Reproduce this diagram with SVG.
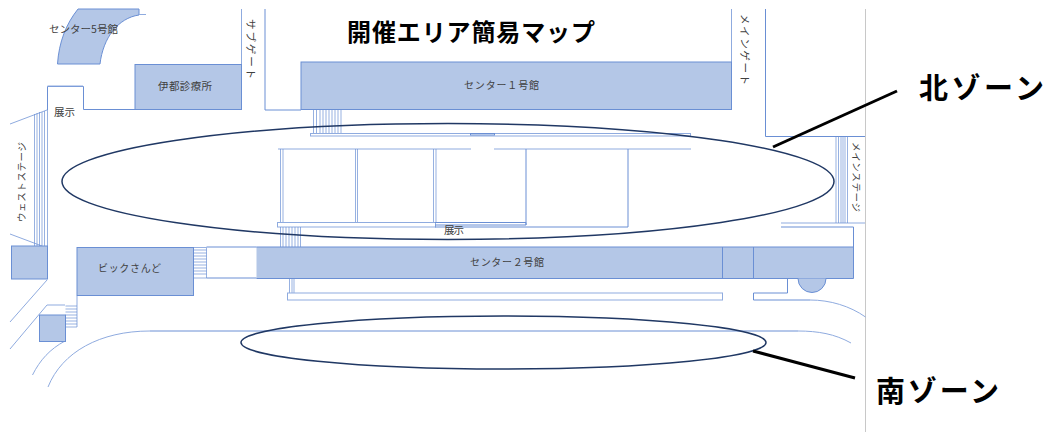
<svg xmlns="http://www.w3.org/2000/svg" width="1047" height="432" viewBox="0 0 1047 432">
<style>
text{font-family:"Noto Sans CJK JP","Noto Sans",sans-serif;fill:#404040}
.b{fill:#b4c7e7;stroke:#6a8fd4;stroke-width:1}
.l{fill:none;stroke:#6a8fd4;stroke-width:1}
.s{fill:none;stroke:#6a8fd4;stroke-width:.7}
.p{fill:none;stroke:#8fabdf;stroke-width:1}
.w{fill:#fff;stroke:#8fabdf;stroke-width:1}
.z{fill:none;stroke:#203864;stroke-width:1.5}
.t{font-weight:700;fill:#000}
.c{stroke:#000;stroke-width:3;fill:none}
</style>
<rect width="1047" height="432" fill="#fff"/>
<g id="boundary"><path d="M865.500 9V432" fill="none" stroke="#c8c8c8" stroke-width="1"/></g>
<g id="center5"><path class="b" d="M78 9H139V15C118 18 103 38 100 64H57.500C59 42 66 24 78 9Z"/><path d="M139 14.500H146" class="p"/><text x="49" y="33" font-size="10" textLength="69" lengthAdjust="spacingAndGlyphs">センター5号館</text></g>
<g id="walls">
<path class="l" d="M47.500 110V86.500H83.500V109.500H135"/>
<path class="p" d="M47.500 86H83"/>
<path class="p" d="M10 124L47 110"/>
<path class="p" d="M241.500 9V64"/>
<path class="l" d="M265 9V110H301"/>
<path class="p" d="M731.500 9V62"/>
<path class="l" d="M765.500 9V136.500H865"/>
<path class="p" d="M781 223H865"/>
<path class="l" d="M781 227H853.500V247"/>
<path class="p" d="M10 234L42 246"/>
<path class="p" d="M47 280L10 322"/>
<path class="p" d="M47 305L10 349"/>
<path class="p" d="M47 305H65"/>
<path class="p" d="M77 296V327"/>
<path class="p" d="M65 341C50 349 40 360 32.500 375"/>
<path class="p" d="M48 387C62 352 100 331 150 331"/>
<path class="l" d="M150 331H798"/>
<path class="p" d="M798 331C818 331 835 334 851 343"/>
<path class="p" d="M810 300C830 300 850 306 865.500 317"/>
<path class="l" d="M787.500 278V293H753.500V300H810"/>
</g>
<g id="clinic"><rect class="b" x="135" y="64.500" width="106.500" height="45"/><text x="158" y="90" font-size="10.500" textLength="54">伊都診療所</text></g>
<g id="center1"><rect class="b" x="301" y="62" width="430.500" height="47.500"/><text x="464" y="89" font-size="10" textLength="75">センター１号館</text></g>
<g id="steps-north"><path class="s" d="M313.500 110V134M316.500 110V134M320 110V134M323 110V134M326 110V134M329 110V134M332 110V134M335 110V134M338 110V134M341 110V134"/></g>
<g id="exhibit-north">
<rect class="w" x="310.500" y="133.500" width="380" height="2.500"/>
<rect class="l" x="470.500" y="133.500" width="24" height="1.500"/>
<path class="p" d="M278 149H471M494 149H691" stroke-width="1.500"/>
<path class="s" d="M280.500 149V223M283 149V223M355.500 149V223M357.500 149V223M433.500 149V223M436 149V223"/>
<path class="l" d="M526 149V225M628 149V227"/>
<rect class="w" x="277.500" y="222.500" width="158" height="4.500"/>
<path class="l" d="M435 222.500H526V225H435M435 227H628"/>
<text x="444" y="234" font-size="10.500" textLength="20">展示</text>
</g>
<g id="steps-south"><path class="s" d="M280.500 227V247M283 227V247M286 227V247M289 227V247M292 227V247M295 227V247M298 227V247M300.500 227V247M289.500 278V293M292 278V293M294 278V293"/></g>
<g id="center2">
<rect x="256.500" y="247" width="597" height="31.500" fill="#b4c7e7"/>
<path class="l" d="M256.500 247H853.500V278.500H256.500M722.500 247V279M753.500 247V279"/>
<path class="b" d="M798 278.500A14 14 0 0 0 826 278.500"/>
<text x="470" y="266" font-size="10" textLength="74">センター２号館</text>
</g>
<g id="center2-annex"><rect class="w" x="287.500" y="293" width="435" height="7"/></g>
<g id="pick"><rect class="b" x="77" y="247.500" width="116.500" height="48"/><text x="98" y="272" font-size="10" textLength="63">ビックさんど</text>
<path class="l" d="M206.500 247H256.500M206.500 278H256.500"/>
<path class="s" d="M193.500 247.500H206.500V278H193.500M193.500 250H206.500M193.500 253H206.500M193.500 256H206.500M193.500 259H206.500M193.500 262H206.500M193.500 265H206.500M193.500 268H206.500M193.500 271H206.500M193.500 274H206.500"/></g>
<g id="small-box"><rect class="b" x="39.500" y="315" width="26" height="26.500"/>
<path class="s" d="M65.500 306H77M65.500 309H77M65.500 312H77M65.500 315H77M65.500 318H77M65.500 321H77M65.500 324H77M65.500 327H77"/></g>
<g id="west-stage"><rect class="b" x="11.500" y="246" width="36" height="33"/>
<path class="s" d="M34.500 114V246M37 113V246M39.500 112V246M42 112V246M44.500 111V246M47.500 110V246"/>
<text transform="translate(25 222) rotate(-90)" font-size="9.500" textLength="80">ウェストステージ</text></g>
<g id="main-stage"><path class="s" d="M836 136.500V223M838.500 136.500V223M841 136.500V223M843 136.500V223M845 136.500V223M847.500 136.500V223"/>
<text transform="translate(853 142) rotate(90)" font-size="9.500" textLength="70">メインステージ</text></g>
<g id="exhibit-west"><text x="54" y="116" font-size="10.500" textLength="21">展示</text></g>
<g id="sub-gate"><text transform="translate(247 19) rotate(90)" font-size="10.500" textLength="60">サブゲート</text></g>
<g id="main-gate"><text transform="translate(741 14) rotate(90)" font-size="10.500" textLength="71">メインゲート</text></g>
<g id="north-zone"><ellipse class="z" cx="448" cy="181.500" rx="386" ry="58"/><text class="t" x="919" y="99" font-size="29" textLength="125">北ゾーン</text></g>
<g id="south-zone"><ellipse class="z" cx="503.500" cy="342.500" rx="262.500" ry="26.500"/><text class="t" x="876" y="402" font-size="29" textLength="123">南ゾーン</text></g>
<g id="connectors"><path class="c" d="M773 147L897 91"/><path class="c" d="M753 351L855 378"/></g>
<g id="title"><text class="t" x="347" y="41" font-size="24" textLength="248">開催エリア簡易マップ</text></g>
</svg>
